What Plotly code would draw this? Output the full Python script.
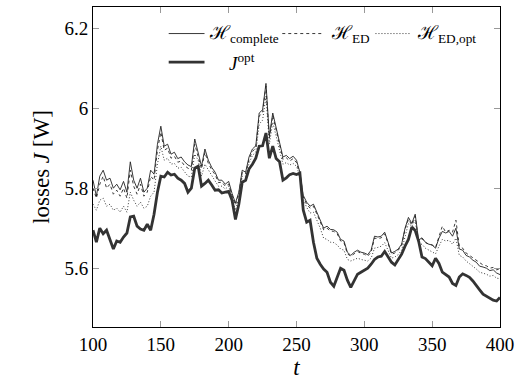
import plotly.graph_objects as go

t = [100, 102.5, 105, 107.5, 110, 112.5, 115, 117.5, 120, 122.5, 125, 127.5, 130, 132.5, 135, 137.5, 140, 142.5, 145, 147.5,
     150, 152.5, 155, 157.5, 160, 162.5, 165, 167.5, 170, 172.5, 175, 177.5, 180, 182.5, 185, 187.5, 190, 192.5, 195, 197.5,
     200, 202.5, 205, 207.5, 210, 212.5, 215, 217.5, 220, 222.5, 225, 227.5, 230, 232.5, 235, 237.5, 240, 242.5, 245, 247.5,
     250, 252.5, 255, 257.5, 260, 262.5, 265, 267.5, 270, 272.5, 275, 277.5, 280, 282.5, 285, 287.5, 290, 292.5, 295, 297.5,
     300, 302.5, 305, 307.5, 310, 312.5, 315, 317.5, 320, 322.5, 325, 327.5, 330, 332.5, 335, 337.5, 340, 342.5, 345, 347.5,
     350, 352.5, 355, 357.5, 360, 362.5, 365, 367.5, 370, 372.5, 375, 377.5, 380, 382.5, 385, 387.5, 390, 392.5, 395, 397.5, 400]

h_complete = [5.82, 5.78, 5.83, 5.845, 5.82, 5.825, 5.80, 5.81, 5.796, 5.817, 5.79, 5.866, 5.82, 5.80, 5.825, 5.79, 5.80, 5.845, 5.835, 5.91,
              5.955, 5.905, 5.91, 5.885, 5.89, 5.874, 5.878, 5.866, 5.858, 5.854, 5.923, 5.89, 5.855, 5.898, 5.87, 5.852, 5.84, 5.82, 5.82, 5.81,
              5.817, 5.787, 5.763, 5.79, 5.845, 5.84, 5.878, 5.898, 5.906, 5.988, 5.996, 6.062, 5.93, 5.988, 5.95, 5.915, 5.878, 5.882, 5.874, 5.88,
              5.87, 5.84, 5.782, 5.765, 5.755, 5.76, 5.74, 5.72, 5.70, 5.705, 5.697, 5.696, 5.69, 5.672, 5.668, 5.64, 5.632, 5.64, 5.645, 5.64,
              5.638, 5.634, 5.645, 5.68, 5.678, 5.68, 5.69, 5.665, 5.638, 5.642, 5.648, 5.66, 5.70, 5.727, 5.712, 5.735, 5.67, 5.676, 5.665, 5.66,
              5.658, 5.65, 5.675, 5.692, 5.688, 5.692, 5.68, 5.70, 5.648, 5.645, 5.632, 5.628, 5.62, 5.615, 5.605, 5.603, 5.60, 5.594, 5.596, 5.588, 5.584]

h_ed = [5.80, 5.775, 5.81, 5.83, 5.80, 5.81, 5.785, 5.795, 5.78, 5.80, 5.775, 5.845, 5.805, 5.785, 5.81, 5.78, 5.79, 5.83, 5.82, 5.895,
        5.94, 5.895, 5.90, 5.875, 5.88, 5.865, 5.868, 5.856, 5.85, 5.845, 5.91, 5.88, 5.848, 5.89, 5.862, 5.846, 5.834, 5.814, 5.815, 5.805,
        5.81, 5.782, 5.758, 5.786, 5.84, 5.836, 5.872, 5.892, 5.90, 5.98, 5.99, 6.055, 5.925, 5.982, 5.945, 5.91, 5.872, 5.876, 5.868, 5.874,
        5.864, 5.835, 5.778, 5.76, 5.75, 5.755, 5.736, 5.716, 5.696, 5.70, 5.693, 5.692, 5.686, 5.668, 5.664, 5.636, 5.63, 5.636, 5.642, 5.637,
        5.635, 5.63, 5.64, 5.675, 5.674, 5.676, 5.686, 5.662, 5.635, 5.638, 5.645, 5.657, 5.697, 5.722, 5.708, 5.73, 5.668, 5.674, 5.664, 5.66,
        5.658, 5.652, 5.68, 5.705, 5.69, 5.695, 5.69, 5.72, 5.655, 5.65, 5.638, 5.632, 5.626, 5.62, 5.612, 5.608, 5.606, 5.60, 5.602, 5.596, 5.598]

h_ed_opt = [5.76, 5.745, 5.77, 5.775, 5.755, 5.76, 5.745, 5.75, 5.74, 5.755, 5.74, 5.79, 5.77, 5.755, 5.765, 5.75, 5.755, 5.78, 5.79, 5.86,
            5.905, 5.87, 5.875, 5.86, 5.862, 5.85, 5.852, 5.842, 5.83, 5.828, 5.885, 5.87, 5.83, 5.86, 5.845, 5.83, 5.818, 5.805, 5.805, 5.798,
            5.805, 5.778, 5.745, 5.775, 5.83, 5.83, 5.862, 5.882, 5.89, 5.96, 5.97, 6.03, 5.91, 5.965, 5.93, 5.898, 5.86, 5.864, 5.858, 5.862,
            5.855, 5.83, 5.772, 5.752, 5.738, 5.74, 5.72, 5.70, 5.675, 5.672, 5.665, 5.664, 5.658, 5.648, 5.645, 5.622, 5.618, 5.622, 5.625, 5.622,
            5.62, 5.618, 5.625, 5.65, 5.652, 5.655, 5.664, 5.645, 5.625, 5.628, 5.634, 5.645, 5.682, 5.712, 5.705, 5.72, 5.66, 5.66, 5.65, 5.645,
            5.642, 5.636, 5.655, 5.672, 5.668, 5.67, 5.66, 5.675, 5.632, 5.628, 5.618, 5.612, 5.605, 5.598, 5.59, 5.588, 5.585, 5.58, 5.582, 5.575, 5.574]

j_opt = [5.695, 5.665, 5.70, 5.686, 5.695, 5.67, 5.648, 5.668, 5.665, 5.678, 5.688, 5.728, 5.73, 5.705, 5.698, 5.695, 5.71, 5.695, 5.735, 5.79,
         5.83, 5.828, 5.84, 5.833, 5.835, 5.825, 5.82, 5.812, 5.79, 5.80, 5.85, 5.855, 5.805, 5.812, 5.82, 5.808, 5.795, 5.796, 5.788, 5.79,
         5.792, 5.77, 5.722, 5.76, 5.815, 5.82, 5.848, 5.86, 5.875, 5.905, 5.906, 5.938, 5.875, 5.905, 5.874, 5.866, 5.82, 5.826, 5.834, 5.837,
         5.834, 5.838, 5.745, 5.715, 5.72, 5.665, 5.625, 5.61, 5.598, 5.59, 5.565, 5.555, 5.58, 5.60, 5.595, 5.57, 5.552, 5.57, 5.585, 5.59,
         5.596, 5.60, 5.61, 5.622, 5.628, 5.63, 5.642, 5.628, 5.615, 5.608, 5.622, 5.635, 5.655, 5.672, 5.703, 5.694, 5.668, 5.628, 5.624, 5.614,
         5.606, 5.625, 5.612, 5.59, 5.585, 5.578, 5.562, 5.557, 5.578, 5.586, 5.582, 5.577, 5.568, 5.558, 5.546, 5.535, 5.53, 5.524, 5.52, 5.518, 5.527]

x_ticks = [100, 150, 200, 250, 300, 350, 400]
y_ticks = [5.6, 5.8, 6.0, 6.2]
y_tick_text = ["5.6", "5.8", "6", "6.2"]

FONT = "Liberation Serif, DejaVu Serif, serif"

fig = go.Figure()
fig.add_trace(go.Scatter(x=t, y=h_complete, mode="lines", line=dict(color="#222222", width=0.9), showlegend=False))
fig.add_trace(go.Scatter(x=t, y=h_ed, mode="lines", line=dict(color="#222222", width=0.9, dash="3px,3px"), showlegend=False))
fig.add_trace(go.Scatter(x=t, y=h_ed_opt, mode="lines", line=dict(color="#222222", width=0.9, dash="1px,2px"), showlegend=False))
fig.add_trace(go.Scatter(x=t, y=j_opt, mode="lines", line=dict(color="#333333", width=2.8), showlegend=False))

# manual legend (paper coordinates)
legend_items = [
    (0.186, 0.274, 0.917, dict(color="#222222", width=0.9), "ℋ<sub>complete</sub>", 0.281),
    (0.465, 0.562, 0.917, dict(color="#222222", width=0.9, dash="3px,3px"), "ℋ<sub>ED</sub>", 0.579),
    (0.694, 0.782, 0.917, dict(color="#222222", width=0.9, dash="1px,2px"), "ℋ<sub>ED,opt</sub>", 0.792),
    (0.186, 0.274, 0.828, dict(color="#333333", width=2.8), "<i>J</i><sup>opt</sup>", 0.330),
]
for x0, x1, yy, ln, label, lx in legend_items:
    fig.add_shape(type="line", xref="paper", yref="paper", x0=x0, x1=x1, y0=yy, y1=yy, line=ln)
    fig.add_annotation(xref="paper", yref="paper", x=lx, y=yy, text=label, showarrow=False,
                       xanchor="left", yanchor="middle", font=dict(family=FONT, size=19, color="black"))

fig.update_layout(
    width=520, height=381,
    margin=dict(l=93, r=18, t=6, b=49),
    paper_bgcolor="white", plot_bgcolor="white",
    font=dict(family=FONT, size=19, color="black"),
    xaxis=dict(range=[100, 400], tickvals=x_ticks, ticks="inside", ticklen=6, tickcolor="#999999",
               showline=True, linecolor="black", linewidth=1, mirror="allticks", showgrid=False, zeroline=False,
               title=dict(text="<i>t</i>", standoff=4)),
    yaxis=dict(range=[5.453, 6.253], tickvals=y_ticks, ticktext=y_tick_text, ticks="inside", ticklen=6, tickcolor="#999999",
               showline=True, linecolor="black", linewidth=1, mirror="allticks", showgrid=False, zeroline=False,
               title=dict(text="losses <i>J</i> [W]", standoff=8)),
)

fig.write_html("out.html", config={"displayModeBar": False},
               post_script="document.body.style.margin='0';")
